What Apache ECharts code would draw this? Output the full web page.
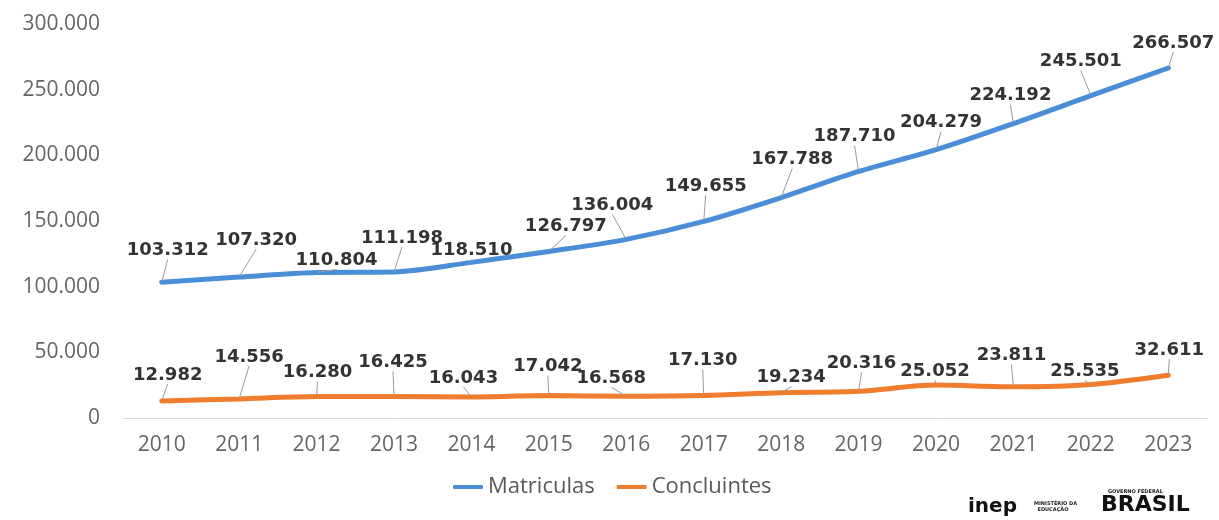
<!DOCTYPE html>
<html>
<head>
<meta charset="utf-8">
<script src="https://cdn.jsdelivr.net/npm/echarts@6/dist/echarts.min.js"></script>
<style>
  html, body { margin: 0; padding: 0; background: #fff; }
  #chart { width: 1219px; height: 520px; }
</style>
</head>
<body>
<div id="chart"></div>
<script>
// anos
const years = ["2010", "2011", "2012", "2013", "2014", "2015", "2016", "2017", "2018", "2019", "2020", "2021", "2022", "2023"];
// matrículas
const matriculas = [103312, 107320, 110804, 111198, 118510, 126797, 136004, 149655, 167788, 187710, 204279, 224192, 245501, 266507];
// concluintes
const concluintes = [12982, 14556, 16280, 16425, 16043, 17042, 16568, 17130, 19234, 20316, 25052, 23811, 25535, 32611];

// deslocamento dos rótulos (dx, dy) em relação ao ponto
const matShift = [[6, -32], [17, -37], [20, -12], [8, -34], [0, -12], [17, -25], [-14, -34], [2, -35], [11, -38], [-4, -35], [5, -27], [-3, -28], [-10, -34], [5, -25]];
const conShift = [[6, -26], [10, -42], [1, -24], [-1, -34], [-8, -19], [-1, -29], [-15, -18], [-1, -35], [10, -15], [3, -28], [-1, -14], [-2, -31], [-6, -13], [1, -25]];

const fmt = (v) => String(v).replace(/\B(?=(\d{3})+(?!\d))/g, ".");

const chart = echarts.init(document.getElementById("chart"));

const labelStyle = {
  show: true,
  position: "inside",
  fontFamily: "DejaVu Sans",
  fontWeight: "bold",
  fontSize: 18,
  color: "#333333",
  formatter: (p) => fmt(p.value),
};

const mkSeries = (name, data, color, shift) => ({
  name: name,
  type: "line",
  data: data,
  smooth: 0.3,
  symbol: "circle",
  symbolSize: 2,
  showSymbol: true,
  itemStyle: { color: color },
  lineStyle: { color: color, width: 5, cap: "round" },
  label: labelStyle,
  labelLine: { show: true, lineStyle: { color: "#9a9a9a", width: 1 } },
  labelLayout: (p) => ({ dx: shift[p.dataIndex][0], dy: shift[p.dataIndex][1] }),
  emphasis: { disabled: true },
});

const option = {
  backgroundColor: "#ffffff",
  animation: false,
  grid: { left: 123, right: 12, top: 24, bottom: 102 },
  legend: {
    bottom: 17,
    left: 448,
    itemWidth: 30,
    itemHeight: 4,
    itemGap: 22,
    icon: "roundRect",
    textStyle: { fontFamily: "Open Sans", fontSize: 22, color: "#595959" },
    data: ["Matriculas", "Concluintes"],
  },
  xAxis: {
    type: "category",
    data: years,
    axisLine: { lineStyle: { color: "#d9d9d9", width: 1 } },
    axisTick: { show: false },
    axisLabel: { margin: 17, fontFamily: "Open Sans", fontSize: 21, color: "#666666" },
  },
  yAxis: {
    type: "value",
    min: 0,
    max: 300000,
    interval: 50000,
    axisLine: { show: false },
    axisTick: { show: false },
    splitLine: { show: false },
    axisLabel: { margin: 23, fontFamily: "Open Sans", fontSize: 21, color: "#666666", formatter: (v) => fmt(v) },
  },
  graphic: [
    { type: "text", left: 968, top: 497, style: { text: "inep", fontFamily: "DejaVu Sans", fontWeight: "bold", fontSize: 20, fill: "#111" } },
    { type: "text", left: 1034, top: 501, style: { text: "MINISTÉRIO DA\n  EDUCAÇÃO", fontFamily: "DejaVu Sans", fontWeight: "bold", fontSize: 5, lineHeight: 6, fill: "#222" } },
    { type: "text", left: 1108, top: 489, style: { text: "GOVERNO FEDERAL", fontFamily: "DejaVu Sans", fontWeight: "bold", fontSize: 5, fill: "#222" } },
    { type: "text", left: 1101, top: 494, style: { text: "BRASIL", fontFamily: "DejaVu Sans", fontWeight: "bold", fontSize: 22, fill: "#111" } },
  ],
  series: [
    mkSeries("Matriculas", matriculas, "#4a8ed8", matShift),
    mkSeries("Concluintes", concluintes, "#ee7d2e", conShift),
  ],
};

chart.setOption(option);
</script>
</body>
</html>
